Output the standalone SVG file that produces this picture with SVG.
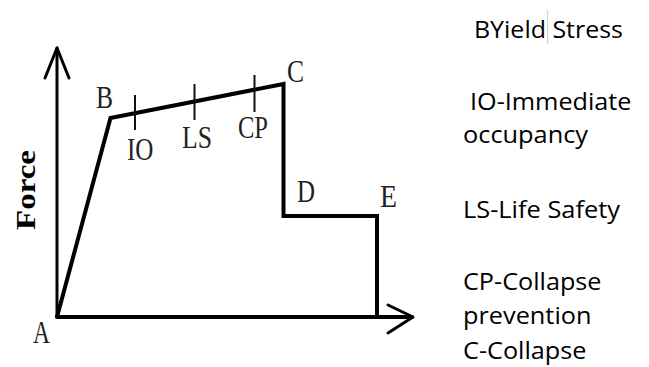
<svg xmlns="http://www.w3.org/2000/svg" width="649" height="367" viewBox="0 0 649 367">
  <style>
    .axis { fill: none; stroke: #000; stroke-width: 3; stroke-linecap: round; stroke-linejoin: round; }
    .curve { fill: none; stroke: #000; stroke-width: 4; stroke-linejoin: miter; }
    .tick { stroke: #111; stroke-width: 2; }
    .lbl { font-family: "Liberation Serif", "Times New Roman", serif; font-size: 32px; fill: #222; }
    .ylbl { font-family: "Liberation Serif", "Times New Roman", serif; font-size: 28px; font-weight: bold; fill: #000; }
    .legend { font-family: "Open Sans", "Liberation Sans", sans-serif; font-size: 24px; fill: #000; }
  </style>
  <rect width="649" height="367" fill="#fff"/>

  <g id="axes">
    <line class="axis" x1="57" y1="317" x2="57" y2="48"/>
    <polyline class="axis" points="45,78 57,48 69,78"/>
    <line class="axis" x1="57" y1="317" x2="412" y2="317" style="stroke-width:4"/>
    <polyline class="axis" points="388,305 413,317 388,333"/>
  </g>

  <g id="curve">
    <polyline class="curve" points="57,317 110.5,118 283.5,84 283.5,216 377,216 377,317"/>
  </g>

  <g id="ticks">
    <line class="tick" x1="135" y1="95" x2="135" y2="130"/>
    <line class="tick" x1="194.5" y1="84" x2="194.5" y2="120"/>
    <line class="tick" x1="254.5" y1="75" x2="254.5" y2="112"/>
  </g>

  <g id="labels">
    <text class="lbl" x="96" y="108" textLength="17" lengthAdjust="spacingAndGlyphs">B</text>
    <text class="lbl" x="127" y="160" textLength="26.5" lengthAdjust="spacingAndGlyphs">IO</text>
    <text class="lbl" x="182" y="148" textLength="30" lengthAdjust="spacingAndGlyphs">LS</text>
    <text class="lbl" x="238" y="138" textLength="30" lengthAdjust="spacingAndGlyphs">CP</text>
    <text class="lbl" x="287" y="82" textLength="17" lengthAdjust="spacingAndGlyphs">C</text>
    <text class="lbl" x="297" y="202" textLength="18" lengthAdjust="spacingAndGlyphs">D</text>
    <text class="lbl" x="380" y="207" textLength="17" lengthAdjust="spacingAndGlyphs">E</text>
    <text class="lbl" x="33" y="343" textLength="17" lengthAdjust="spacingAndGlyphs">A</text>
    <text class="ylbl" transform="translate(35,190) rotate(-90)" text-anchor="middle" textLength="80" lengthAdjust="spacingAndGlyphs">Force</text>
  </g>

  <g id="legend">
    <text class="legend" x="474" y="37.5" textLength="149" lengthAdjust="spacingAndGlyphs">BYield Stress</text>
    <line x1="547.7" y1="10" x2="547.7" y2="44" stroke="#c8c8c8" stroke-width="1"/>
    <text class="legend" x="470" y="109.5" textLength="161.5" lengthAdjust="spacingAndGlyphs">IO-Immediate</text>
    <text class="legend" x="463" y="143" textLength="125" lengthAdjust="spacingAndGlyphs">occupancy</text>
    <text class="legend" x="463" y="217.5" textLength="157" lengthAdjust="spacingAndGlyphs">LS-Life Safety</text>
    <text class="legend" x="463" y="289.5" textLength="138.5" lengthAdjust="spacingAndGlyphs">CP-Collapse</text>
    <text class="legend" x="463" y="323.5" textLength="128.5" lengthAdjust="spacingAndGlyphs">prevention</text>
    <text class="legend" x="463" y="358.5" textLength="123.5" lengthAdjust="spacingAndGlyphs">C-Collapse</text>
  </g>
</svg>
